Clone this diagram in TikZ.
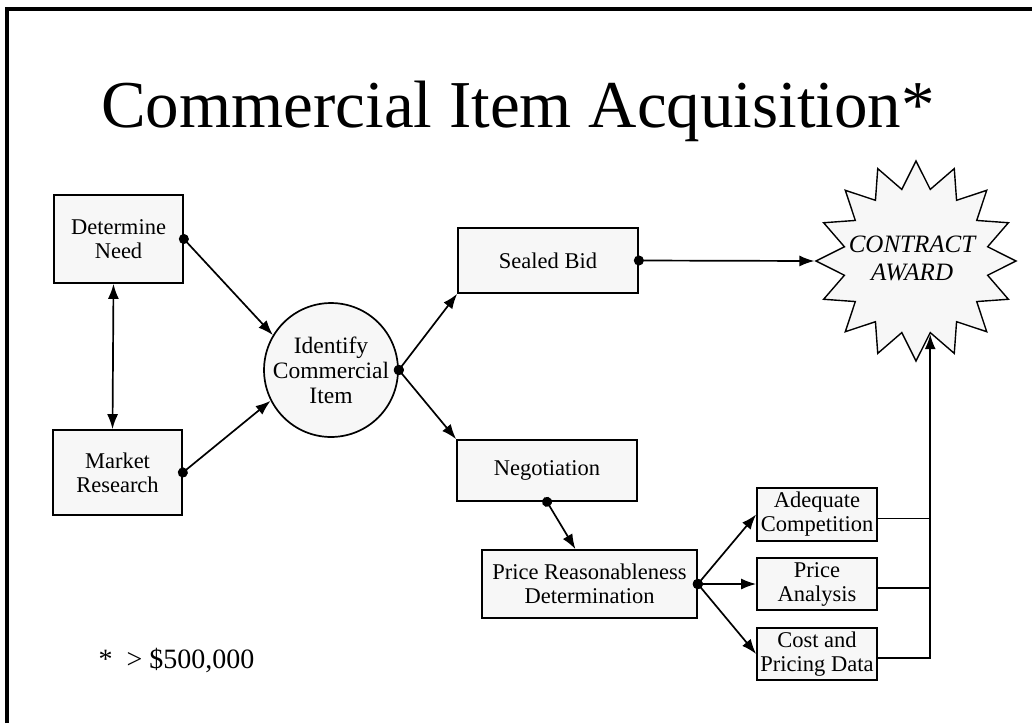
\documentclass[tikz,border=0pt]{standalone}
\usepackage{fontspec}
\setmainfont{Liberation Serif}
\usetikzlibrary{arrows.meta,shapes.geometric}

\begin{document}
\begin{tikzpicture}[x=1pt, y=-1pt,
    box/.style={draw, line width=1.7pt, fill=black!3, inner sep=0pt,
      align=center, font=\fontsize{22.5}{24}\selectfont},
    link/.style={line width=1.7pt, shorten <=-5pt,
      {Circle[length=10pt]}-{Latex[length=15pt,width=11pt]}},
    wire/.style={line width=1.7pt}]
    \useasboundingbox (0,0) rectangle (1032,723);

    % Slide frame
    \draw[line width=4pt]
      (7,723) -- (7,9) -- (1032,9);

    % Title and footnote
    \node[anchor=base, font=\fontsize{67}{70}\selectfont] (title)
      at (518,127) {Commercial Item Acquisition*};
    \node[anchor=base west, font=\fontsize{28}{30}\selectfont] (note)
      at (95,668) {*\ \ > \$500,000};

    % Starting boxes
    \node[box, minimum width=129pt, minimum height=88pt] (need)
      at (118.5,239) {Determine\\Need};
    \node[box, minimum width=129pt, minimum height=85pt] (market)
      at (117.5,472.5) {Market\\Research};

    % Identification circle
    \node[box, circle, minimum size=133pt,
      font=\fontsize{23.5}{25}\selectfont] (ident)
      at (331,370) {Identify\\Commercial\\Item};

    % Procedures
    \node[box, minimum width=180pt, minimum height=65pt] (sealed)
      at (548,260.5) {Sealed Bid};
    \node[box, minimum width=180pt, minimum height=61pt] (neg)
      at (547,470.5) {Negotiation};
    \node[box, minimum width=215pt, minimum height=68pt] (prd)
      at (589.5,584) {Price Reasonableness\\Determination};

    % Ways to show a fair price
    \node[box, minimum width=120pt, minimum height=53pt] (adq)
      at (817,514.5) {Adequate\\Competition};
    \node[box, minimum width=120pt, minimum height=52pt] (pa)
      at (817,584) {Price\\Analysis};
    \node[box, minimum width=120pt, minimum height=52pt] (cpd)
      at (817,654) {Cost and\\Pricing Data};

    % Award star
    \node[star, star points=16, star point ratio=1.37, minimum size=200pt,
      draw, line width=1.4pt, fill=black!3, inner sep=0pt] (award)
      at (916,261) {};
    \node[align=center, inner sep=0pt,
      font=\itshape\fontsize{25}{28}\selectfont] (awardtext)
      at (912,258) {CONTRACT\\AWARD};

    % Connectors
    \draw[wire, {Latex[length=15pt,width=11pt]}-{Latex[length=15pt,width=11pt]}]
      ([xshift=-5pt]need.south) -- ([xshift=-5pt]market.north);
    \draw[link] (need.east) -- (ident.149);
    \draw[link] (market.east) -- (ident.207);
    \draw[link] (ident.east) -- (sealed.south west);
    \draw[link] (ident.east) -- (neg.north west);
    \draw[link] (sealed.east) -- (award.west);
    \draw[link] (neg.south) -- (prd.112);
    \foreach \n in {adq, pa, cpd} {
      \draw[link] (prd.east) -- (\n.west);
    }

    % Lines into the award
    \foreach \n in {adq, pa} {
      \draw[wire] ([yshift=-4pt]\n.east) -- ([yshift=-4pt]\n.east -| award.281);
    }
    \draw[wire, -{Latex[length=15pt,width=11pt]}]
      ([yshift=-4pt]cpd.east) -| (award.281);
  \end{tikzpicture}
\end{document}
